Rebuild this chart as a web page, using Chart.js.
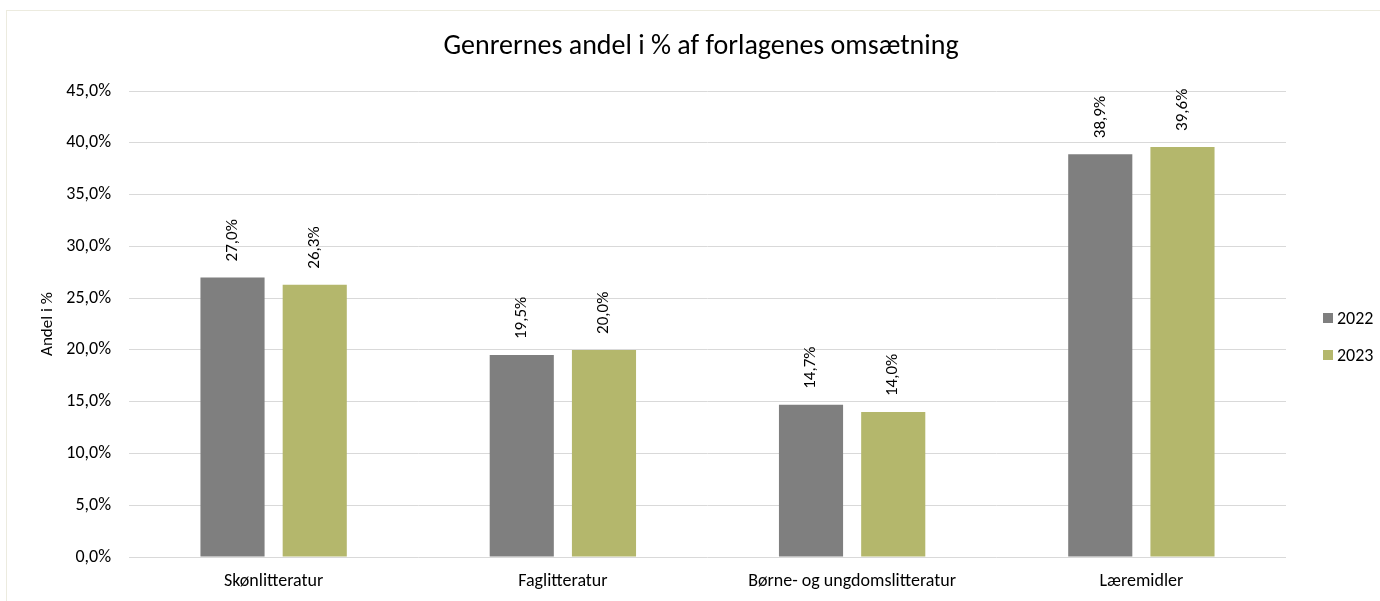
<!DOCTYPE html>
<html><head><meta charset="utf-8">
<script src="https://cdn.jsdelivr.net/npm/chart.js@4/dist/chart.umd.min.js"></script>
<style>
html,body{margin:0;padding:0;background:#fff;}
#frame{position:absolute;left:6px;top:10px;width:1400px;height:620px;border:1px solid #ecebdf;box-sizing:border-box;}
#wrap{position:absolute;left:0;top:0;width:1380px;height:601px;}
</style></head>
<body>
<div id="frame"></div>
<div id="wrap"><canvas id="c" width="1380" height="601"></canvas></div>
<script>
const categories = ["Skønlitteratur", "Faglitteratur", "Børne- og ungdomslitteratur", "Læremidler"];
const seriesNames = ["2022", "2023"];
const values2022 = [27.0, 19.5, 14.7, 38.9];
const values2023 = [26.3, 20.0, 14.0, 39.6];
const seriesColors = ["#7f7f7f", "#b4b76c"];
const titleText = "Genrernes andel i % af forlagenes omsætning";
const yTitle = "Andel i %";
const yMin = 0, yMax = 45, yStep = 5;

const FONT = "Carlito, Lato, 'Noto Sans', sans-serif";
const fmt = v => v.toFixed(1).replace('.', ',') + '%';

const extras = {
  id: 'extras',
  afterDatasetsDraw(chart) {
    const ctx = chart.ctx;
    ctx.save();
    ctx.fillStyle = '#000';
    ctx.font = "17px " + FONT;
    ctx.textAlign = 'left';
    ctx.textBaseline = 'middle';
    chart.data.datasets.forEach((ds, di) => {
      chart.getDatasetMeta(di).data.forEach((bar, i) => {
        ctx.save();
        ctx.translate(bar.x, bar.y - 16);
        ctx.rotate(-Math.PI / 2);
        ctx.fillText(fmt(ds.data[i]), 0, 0);
        ctx.restore();
      });
    });
    // title
    ctx.font = "28px " + FONT;
    ctx.textAlign = 'center';
    ctx.fillStyle = '#000';
    ctx.fillText(titleText, 701, 47);
    // legend
    ctx.font = "18px " + FONT;
    ctx.textAlign = 'left';
    const ly = [318, 355];
    chart.data.datasets.forEach((ds, di) => {
      ctx.fillStyle = ds.backgroundColor;
      ctx.fillRect(1323, ly[di] - 5, 10, 10);
      ctx.fillStyle = '#000';
      ctx.fillText(ds.label, 1337, ly[di] + 1);
    });
    ctx.restore();
  }
};

new Chart(document.getElementById('c'), {
  type: 'bar',
  data: {
    labels: categories,
    datasets: [
      { label: seriesNames[0], data: values2022, backgroundColor: seriesColors[0] },
      { label: seriesNames[1], data: values2023, backgroundColor: seriesColors[1] }
    ]
  },
  options: {
    responsive: false,
    animation: false,
    devicePixelRatio: 1,
    layout: { padding: { left: 0, top: 91, right: 94, bottom: 0 } },
    plugins: { legend: { display: false }, title: { display: false }, tooltip: { enabled: false } },
    datasets: { bar: { categoryPercentage: 0.5685, barPercentage: 0.78 } },
    scales: {
      x: {
        grid: { display: false },
        border: { display: false },
        ticks: { color: '#000', font: { family: FONT, size: 18 }, padding: 6 },
        afterFit(s) { s.height = 44; }
      },
      y: {
        min: yMin, max: yMax,
        grid: { color: '#d9d9d9', lineWidth: 1, drawTicks: false },
        border: { display: false },
        ticks: { stepSize: yStep, color: '#000', font: { family: FONT, size: 18 }, padding: 18, callback: v => fmt(v) },
        title: { display: true, text: yTitle, color: '#000', font: { family: FONT, size: 17 }, padding: { top: 38, bottom: 0 } },
        afterFit(s) { s.width = 129; }
      }
    }
  },
  plugins: [extras]
});
</script>
</body></html>
